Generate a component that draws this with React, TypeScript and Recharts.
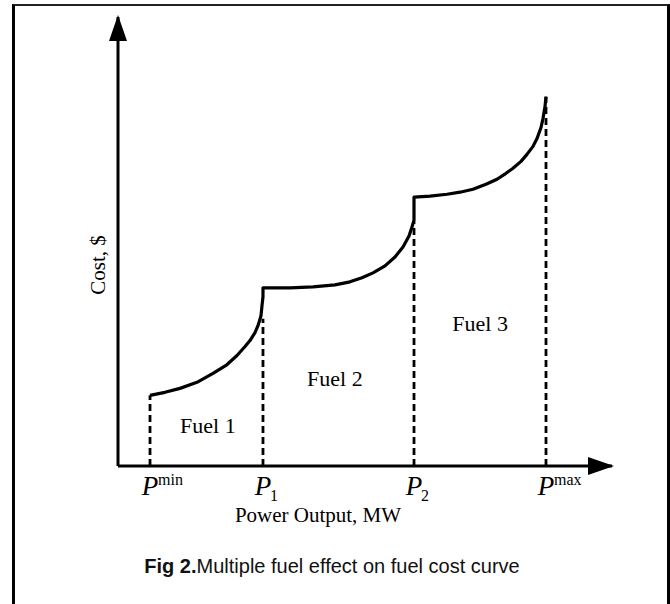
import React from 'react';
import { ComposedChart, Line, XAxis, YAxis, ReferenceLine, Scatter } from 'recharts';

// Power output (arbitrary MW scale 0-100) vs cost ($, arbitrary 0-100)
const costCurve = [
  // Fuel 1
  { p: 6.48, c: 15.74 }, { p: 9.51, c: 16.41 }, { p: 12.55, c: 17.29 }, { p: 15.99, c: 18.63 },
  { p: 19.23, c: 20.62 }, { p: 21.86, c: 22.39 }, { p: 24.09, c: 24.61 }, { p: 25.71, c: 26.61 },
  { p: 26.72, c: 27.94 }, { p: 27.73, c: 29.71 }, { p: 28.34, c: 31.26 }, { p: 28.95, c: 33.48 },
  { p: 29.15, c: 35.7 }, { p: 29.35, c: 37.69 }, { p: 29.35, c: 39.47 },
  // Fuel 2
  { p: 29.35, c: 39.69 }, { p: 34.82, c: 39.69 }, { p: 39.47, c: 39.91 }, { p: 43.93, c: 40.35 },
  { p: 46.96, c: 41.02 }, { p: 49.39, c: 41.91 }, { p: 51.62, c: 43.02 }, { p: 54.05, c: 44.57 },
  { p: 56.07, c: 46.56 }, { p: 57.69, c: 48.78 }, { p: 58.91, c: 51.22 }, { p: 59.51, c: 53.22 },
  { p: 59.92, c: 54.77 }, { p: 59.92, c: 59.87 },
  // Fuel 3
  { p: 63.16, c: 60.09 }, { p: 66.6, c: 60.53 }, { p: 69.23, c: 60.98 }, { p: 71.86, c: 61.64 },
  { p: 74.49, c: 62.75 }, { p: 76.72, c: 63.86 }, { p: 78.54, c: 65.19 }, { p: 79.96, c: 66.3 },
  { p: 81.58, c: 67.85 }, { p: 82.79, c: 69.4 }, { p: 84.01, c: 71.18 }, { p: 84.82, c: 72.95 },
  { p: 85.63, c: 75.39 }, { p: 86.03, c: 77.38 }, { p: 86.44, c: 80.04 }, { p: 86.64, c: 82.26 },
];

const boundaryP = [6.48, 29.35, 59.92, 86.64];
const boundaryCost = [15.74, 32.8, 54.5, 82.26];
const boundaryMarks = ['min', '1', '2', 'max'];
const markKind = ['sup', 'sub', 'sub', 'sup'];

const fuelLabels = [
  { p: 18.2, c: 9.1, name: 'Fuel 1' },
  { p: 43.9, c: 19.5, name: 'Fuel 2' },
  { p: 73.3, c: 31.7, name: 'Fuel 3' },
];

const xAxisTitle = 'Power Output, MW';
const yAxisTitle = 'Cost, $';
const captionBold = 'Fig 2.';
const captionText = 'Multiple fuel effect on fuel cost curve';

const SERIF = '"Liberation Serif", "Times New Roman", serif';

const PTick = (props: any) => {
  const { x, y, payload } = props;
  const i = boundaryP.indexOf(payload.value);
  const kind = markKind[i];
  const mark = boundaryMarks[i];
  return (
    <g>
      <text x={x} y={y + 29} textAnchor="middle" fontFamily={SERIF} fontStyle="italic" fontSize={27} fill="#000">P</text>
      {kind === 'sup' ? (
        <text x={x + 8} y={y + 19} textAnchor="start" fontFamily={SERIF} fontSize={16} fill="#000">{mark}</text>
      ) : (
        <text x={x + 7} y={y + 35} textAnchor="start" fontFamily={SERIF} fontSize={16} fill="#000">{mark}</text>
      )}
    </g>
  );
};

const FuelLabel = (props: any) => {
  const { cx, cy, payload } = props;
  return (
    <text x={cx} y={cy} textAnchor="middle" dominantBaseline="central" fontFamily={SERIF} fontSize={22} fill="#000">
      {payload.name}
    </text>
  );
};

export default function App() {
  return (
    <div style={{ position: 'absolute', left: 0, top: 0, width: 670, height: 604, overflow: 'hidden', background: '#fff' }}>
      <div
        style={{
          position: 'absolute', left: 12, top: 4, width: 652, height: 640,
          borderTop: '2px solid #222', borderLeft: '3px solid #000', borderRight: '3px solid #000',
        }}
      />
      <div style={{ position: 'absolute', left: 0, top: 0 }}>
        <ComposedChart width={670} height={604} margin={{ top: 17, right: 58, bottom: 78, left: 58 }}>
          <defs>
            <marker id="arrowHead" viewBox="0 0 26 18" refX="24" refY="9" markerWidth="26" markerHeight="18"
              markerUnits="userSpaceOnUse" orient="auto-start-reverse">
              <path d="M0,0 L26,9 L0,18 Z" fill="#000" />
            </marker>
          </defs>
          <XAxis
            type="number"
            dataKey="p"
            domain={[0, 100]}
            ticks={boundaryP}
            interval={0}
            tickLine={false}
            tickSize={0}
            tickMargin={0}
            height={60}
            axisLine={{ stroke: '#000', strokeWidth: 3, markerEnd: 'url(#arrowHead)' }}
            tick={<PTick />}
            allowDataOverflow
            label={(lp: any) => {
              const vb = lp.viewBox || {};
              return (
                <text x={vb.x + 200} y={vb.y + 56} textAnchor="middle" fontFamily={SERIF} fontSize={21} fill="#000">
                  {xAxisTitle}
                </text>
              );
            }}
          />
          <YAxis
            type="number"
            dataKey="c"
            domain={[0, 100]}
            tick={false}
            tickLine={false}
            width={60}
            axisLine={{ stroke: '#000', strokeWidth: 3, markerStart: 'url(#arrowHead)' }}
            allowDataOverflow
            label={(lp: any) => {
              const vb = lp.viewBox || {};
              const lx = vb.x + vb.width - 13;
              const ly = vb.y + 248;
              return (
                <text x={lx} y={ly} transform={`rotate(-90 ${lx} ${ly})`} textAnchor="middle" fontFamily={SERIF} fontSize={21} fill="#000">
                  {yAxisTitle}
                </text>
              );
            }}
          />
          {boundaryP.map((p, i) => (
            <ReferenceLine
              key={i}
              segment={[{ x: p, y: 0 }, { x: p, y: boundaryCost[i] }]}
              stroke="#000"
              strokeWidth={2.8}
              strokeDasharray="7 4"
              ifOverflow="visible"
            />
          ))}
          <Line
            data={costCurve}
            dataKey="c"
            type="linear"
            stroke="#000"
            strokeWidth={3.2}
            strokeLinejoin="round"
            dot={false}
            activeDot={false}
            isAnimationActive={false}
          />
          <Scatter data={fuelLabels} dataKey="c" shape={<FuelLabel />} isAnimationActive={false} />
        </ComposedChart>
      </div>
      <div
        style={{
          position: 'absolute', left: 0, top: 555, width: 664, textAlign: 'center',
          fontFamily: '"Liberation Sans", Arial, sans-serif', fontSize: 20, color: '#111',
        }}
      >
        <b>{captionBold}</b>{captionText}
      </div>
    </div>
  );
}
